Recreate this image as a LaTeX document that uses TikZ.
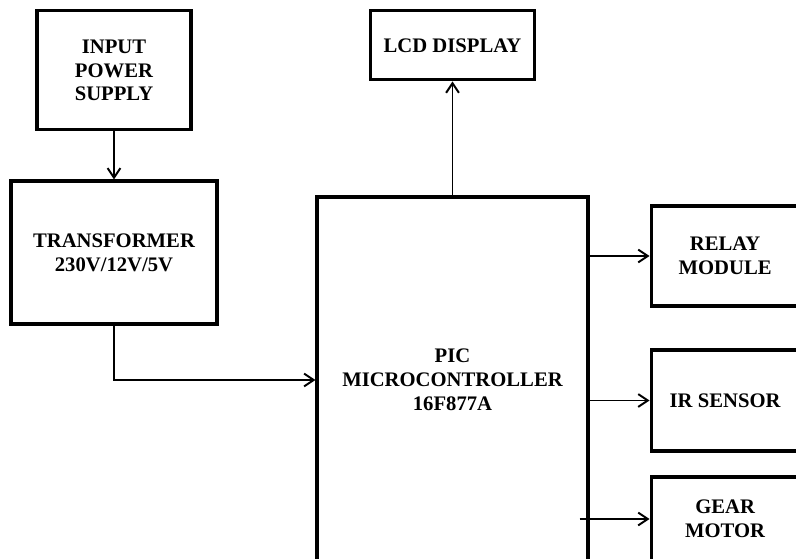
\documentclass[tikz,border=0pt]{standalone}
\usepackage{fontspec}
\setmainfont{Liberation Serif}
\usepackage{tikz}
\usetikzlibrary{positioning,calc,arrows.meta}

\begin{document}
\begin{tikzpicture}[
  blk/.style={
    rectangle, draw=black, line width=2.2pt, fill=white,
    align=center, inner sep=2pt,
    font=\fontsize{14.7}{16.9}\selectfont\bfseries
  },
  outbox/.style={
    blk, minimum width=3.7cm
  },
  arr/.style={draw=black, line width=1.4pt,
    -{Straight Barb[length=2.4mm,width=3.2mm,line width=1.4pt]}}
]

%% Frame of the picture
\useasboundingbox (0,0) rectangle (19.9,-13.95);
\clip (0,0) rectangle (19.9,-13.95);

%% Controller and display
\node[blk, minimum width=6.775cm, minimum height=9.15cm] (pic) at (11.3125,-9.5)
  {PIC\\MICROCONTROLLER\\16F877A};
\node[blk, minimum width=4.1cm, minimum height=1.725cm, above=2.85cm of pic] (lcd)
  {LCD DISPLAY};

%% Power chain
\node[blk, minimum width=5.15cm, minimum height=3.575cm] (trans) at (2.85,-6.3125)
  {TRANSFORMER\\230V/12V/5V};
\node[blk, minimum width=3.85cm, minimum height=2.975cm, above=1.2cm of trans] (inp)
  {INPUT\\POWER\\SUPPLY};

%% Outputs and sensor
\node[outbox, minimum height=2.5cm, right=1.5cm of pic.east, yshift=3.1cm] (relay)
  {RELAY\\MODULE};
\node[outbox, minimum height=2.525cm, right=1.5cm of pic.east, yshift=-0.5125cm] (ir)
  {IR SENSOR};
\node[outbox, minimum height=2.1cm, right=1.5cm of pic.east, yshift=-3.475cm] (gear)
  {GEAR\\MOTOR};

\coordinate (gm) at ($(pic.east |- gear.west) + (-0.25,0)$);

%% Arrows
\draw[arr] (inp) -- (trans);
\draw[arr] (trans.south) |- (pic.west);
\draw[arr] (pic) -- (lcd);
\draw[arr] (pic.east |- relay.west) -- (relay.west);
\draw[arr] (pic.east |- ir.west) -- (ir.west);
\draw[arr] (gm) -- (gear.west);

\end{tikzpicture}
\end{document}
